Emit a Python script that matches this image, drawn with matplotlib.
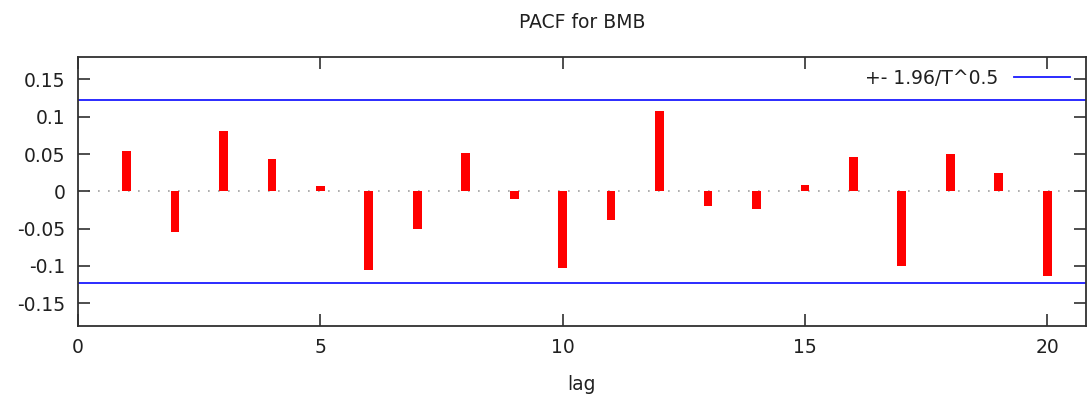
import matplotlib
matplotlib.use("Agg")
import matplotlib.pyplot as plt

lags = list(range(1, 21))
pacf = [0.0545, -0.055, 0.081, 0.043, 0.0075, -0.105, -0.051, 0.052, -0.010, -0.103,
        -0.039, 0.107, -0.020, -0.024, 0.009, 0.0457, -0.100, 0.050, 0.024, -0.113]
band = 0.123
band_label = "+- 1.96/T^0.5"

plt.rcParams['font.family'] = ['DejaVu Sans']

fig = plt.figure(figsize=(10.87, 3.94), dpi=100)
ax = fig.add_axes([0.0718, 0.1734, 0.9272, 0.6819])

ax.bar(lags, pacf, width=0.18, color='#ff0000', zorder=3)

ax.axhline(0, color='#a0a0a0', linestyle=(0, (1, 5)), linewidth=1.2, zorder=1)
ax.axhline(band, color='#1a1aff', linewidth=1.3, label=band_label, zorder=2)
ax.axhline(-band, color='#1a1aff', linewidth=1.3, zorder=2)

ax.set_xlim(0, 20.8)
ax.set_ylim(-0.18, 0.18)
ax.set_xticks([0, 5, 10, 15, 20])
ax.set_yticks([-0.15, -0.1, -0.05, 0, 0.05, 0.1, 0.15])
ax.set_yticklabels(["-0.15", "-0.1", "-0.05", "0", "0.05", "0.1", "0.15"])

ax.tick_params(direction='in', length=8.5, width=1.2, top=True, right=True,
               labelsize=13.5, colors='#303030', labelcolor='#202020', pad=9)
for s in ax.spines.values():
    s.set_color('#303030')
    s.set_linewidth(1.3)

ax.set_xlabel("lag", fontsize=13.5, color='#202020', labelpad=13)
ax.set_title("PACF for BMB", fontsize=13.5, color='#202020', pad=21)

leg = ax.legend(loc='upper right', frameon=False, fontsize=13.5, handlelength=3.0,
                markerfirst=False, borderaxespad=0.3, bbox_to_anchor=(0.997, 1.005))
for t in leg.get_texts():
    t.set_color('#202020')

fig.savefig("out.png", dpi=100)
